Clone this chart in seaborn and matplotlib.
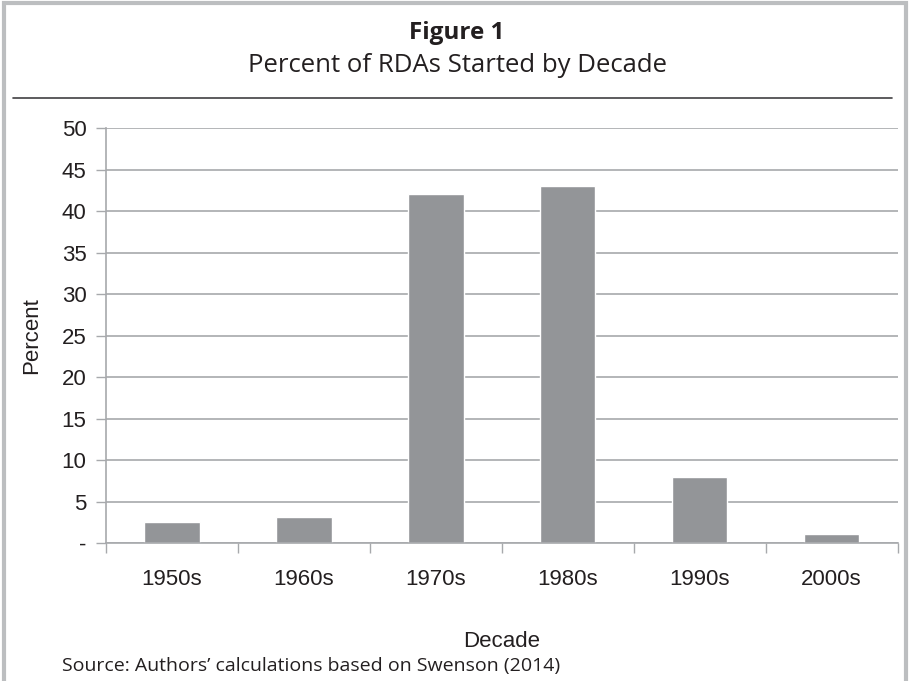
import seaborn as sns
import matplotlib.pyplot as plt
from matplotlib.patches import Rectangle
from matplotlib.lines import Line2D

decades = ['1950s', '1960s', '1970s', '1980s', '1990s', '2000s']
percent = [2.5, 3.1, 42, 43, 8, 1.1]
y_ticks = [0, 5, 10, 15, 20, 25, 30, 35, 40, 45, 50]
y_labels = ['-', '5', '10', '15', '20', '25', '30', '35', '40', '45', '50']

sns.set_style('white')
plt.rcParams['font.family'] = ['Liberation Sans', 'DejaVu Sans']

fig = plt.figure(figsize=(9.14, 6.81), dpi=100)
ax = fig.add_axes([0.116, 0.2026, 0.866, 0.6094])

sns.barplot(x=decades, y=percent, color='#939598', saturation=1, width=0.42, ax=ax)

ax.set_xlim(-0.5, 5.5)
ax.set_ylim(0, 50)
ax.set_yticks(y_ticks)
ax.set_yticklabels(y_labels, fontsize=16, color='#231f20')
ax.yaxis.grid(True, color='#a7a9ac', linewidth=1.2)
ax.set_axisbelow(True)
ax.tick_params(axis='y', length=7, width=1, color='#a7a9ac', left=True, pad=7)

ax.set_xticks(range(len(decades)))
ax.set_xticklabels(decades, fontsize=16, color='#231f20')
ax.set_xticks([i - 0.5 for i in range(len(decades) + 1)], minor=True)
ax.tick_params(axis='x', which='major', length=0, pad=19)
ax.tick_params(axis='x', which='minor', length=7, width=1, color='#a7a9ac', bottom=True)

for side in ['top', 'right']:
    ax.spines[side].set_visible(False)
for side in ['left', 'bottom']:
    ax.spines[side].set_color('#a7a9ac')
    ax.spines[side].set_linewidth(1.2)

ax.set_xlabel('Decade', fontsize=16, color='#231f20', labelpad=29)
ax.set_ylabel('Percent', fontsize=16, color='#231f20', labelpad=14)

# frame, title and rule
fig.patches.append(Rectangle((0.004, -0.05), 0.987, 1.046, transform=fig.transFigure,
                             fill=False, edgecolor='#bcbec0', linewidth=3))
fig.text(0.5, 0.952, 'Figure 1', ha='center', va='center', fontsize=17.5,
         fontweight='bold', family=['Open Sans', 'DejaVu Sans'], color='#231f20')
fig.text(0.5, 0.904, 'Percent of RDAs Started by Decade', ha='center', va='center',
         fontsize=18.5, family=['Open Sans', 'DejaVu Sans'], color='#231f20')
fig.lines.append(Line2D([0.014, 0.976], [0.856, 0.856], transform=fig.transFigure,
                        color='#414042', linewidth=1.2))
fig.text(0.068, 0.022, 'Source: Authors\u2019 calculations based on Swenson (2014)',
         ha='left', va='center', fontsize=14, family=['Open Sans', 'DejaVu Sans'],
         color='#231f20')

fig.savefig('out.png', dpi=100)
